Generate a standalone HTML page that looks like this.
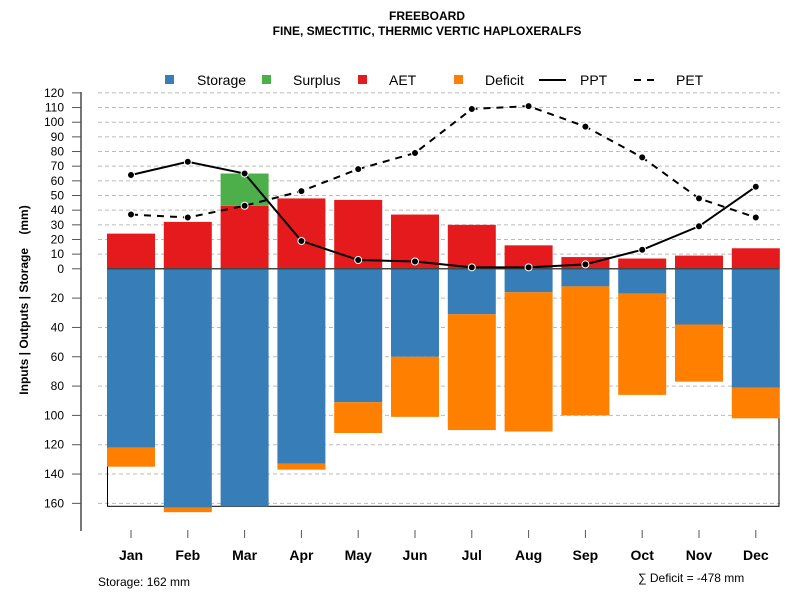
<!DOCTYPE html>
<html><head><meta charset="utf-8"><style>
body{margin:0;background:#fff;font-family:"Liberation Sans",sans-serif}
svg text{font-family:"Liberation Sans",sans-serif}
</style></head><body>
<svg id="c" width="800" height="600" xmlns="http://www.w3.org/2000/svg">
<text x="427" y="20" text-anchor="middle" font-size="12" font-weight="bold">FREEBOARD</text>
<text x="427" y="35" text-anchor="middle" font-size="12" font-weight="bold">FINE, SMECTITIC, THERMIC VERTIC HAPLOXERALFS</text>
<text transform="translate(28,300) rotate(-90)" text-anchor="middle" font-size="12" font-weight="bold">Inputs | Outputs | Storage&#160;&#160;&#160;&#160;(mm)</text>
<text x="98" y="586" font-size="12">Storage: 162 mm</text>
<text x="638" y="582" font-size="12">∑ Deficit = -478 mm</text>
<g id="legend">
<rect x="165" y="75" width="9" height="9" fill="#377eb8"/>
<text x="197" y="85" font-size="14">Storage</text>
<rect x="262" y="75" width="9" height="9" fill="#4daf4a"/>
<text x="293" y="85" font-size="14">Surplus</text>
<rect x="358" y="75" width="9" height="9" fill="#e41a1c"/>
<text x="389" y="85" font-size="14">AET</text>
<rect x="454" y="75" width="9" height="9" fill="#ff7f00"/>
<text x="485" y="85" font-size="14">Deficit</text>
<line x1="539" y1="80" x2="566" y2="80" stroke="#000" stroke-width="2"/>
<text x="580" y="85" font-size="14">PPT</text>
<line x1="634" y1="80" x2="660" y2="80" stroke="#000" stroke-width="2" stroke-dasharray="7,6"/>
<text x="676" y="85" font-size="14">PET</text>
</g>
<g id="plot"></g>
</svg>
<script>
const months=["Jan","Feb","Mar","Apr","May","Jun","Jul","Aug","Sep","Oct","Nov","Dec"];
const aet=[24,32,43,48,47,37,30,16,8,7,9,14];
const surplus=[0,0,22,0,0,0,0,0,0,0,0,0];
const storage=[122,163,162,133,91,60,31,16,12,17,38,81];
const deficit=[13,3,0,4,21,41,79,95,88,69,39,21];
const ppt=[64,73,65,19,6,5,1,1,3,13,29,56];
const pet=[37,35,43,53,68,79,109,111,97,76,48,35];
const upTicks=[0,10,20,30,40,50,60,70,80,90,100,110,120];
const downTicks=[20,40,60,80,100,120,140,160];
const soilStorage=162;
const NS="http://www.w3.org/2000/svg";
const g=document.getElementById('plot');
const Y0=268.8,K=1.466;
const y=v=>Y0-v*K;
const x=i=>131+i*56.8;
const BW=48;
function mk(t,a){const e=document.createElementNS(NS,t);for(const k in a)e.setAttribute(k,a[k]);g.appendChild(e);return e;}
upTicks.forEach(v=>{if(v>0){const l=mk('line',{x1:98,x2:780,y1:y(v),y2:y(v),stroke:'#bbb','stroke-dasharray':'4,3'});

}});
downTicks.forEach(v=>{const l=mk('line',{x1:98,x2:780,y1:y(-v),y2:y(-v),stroke:'#bbb','stroke-dasharray':'4,3'});

});
const box=mk('rect',{x:107.5,y:Y0,width:671.5,height:soilStorage*K,fill:'none',stroke:'#000','stroke-width':1});


months.forEach((m,i)=>{
 const cx=x(i)-BW/2;
 let r=mk('rect',{x:cx,y:y(aet[i]),width:BW,height:aet[i]*K,fill:'#e41a1c'});
 
 
 if(surplus[i]>0){r=mk('rect',{x:cx,y:y(aet[i]+surplus[i]),width:BW,height:surplus[i]*K,fill:'#4daf4a'});
 
 }
 r=mk('rect',{x:cx,y:Y0,width:BW,height:storage[i]*K,fill:'#377eb8'});
 
 
 if(deficit[i]>0){r=mk('rect',{x:cx,y:y(-storage[i]),width:BW,height:deficit[i]*K,fill:'#ff7f00'});
 
 }
 const t=mk('line',{x1:x(i),x2:x(i),y1:530,y2:538,stroke:'#555'});
 
 
 const lb=mk('text',{x:x(i),y:560,'text-anchor':'middle','font-size':14,'font-weight':'bold'});lb.textContent=m;
 
 
});
const z=mk('line',{x1:107,x2:779,y1:Y0,y2:Y0,stroke:'#444','stroke-width':1.5});


const ax=mk('line',{x1:81,x2:81,y1:92,y2:531,stroke:'#777','stroke-width':2});


upTicks.forEach(v=>{const t=mk('line',{x1:72,x2:81,y1:y(v),y2:y(v),stroke:'#555'});


const lb=mk('text',{x:64,y:y(v)+4,'text-anchor':'end','font-size':12});lb.textContent=v;

});
downTicks.forEach(v=>{const t=mk('line',{x1:72,x2:81,y1:y(-v),y2:y(-v),stroke:'#555'});


const lb=mk('text',{x:64,y:y(-v)+4,'text-anchor':'end','font-size':12});lb.textContent=v;

});
function series(arr,name,dash){
 const p=mk('polyline',{points:arr.map((v,i)=>x(i)+','+y(v)).join(' '),fill:'none',stroke:'#000','stroke-width':2,'stroke-dasharray':dash});
 
 
 arr.forEach((v,i)=>{const c=mk('circle',{cx:x(i),cy:y(v),r:3.5,fill:'#000',stroke:'#fff','stroke-width':1});
 
 });
}
series(pet,'pet','7,6');
series(ppt,'ppt','none');
</script>
</body></html>
